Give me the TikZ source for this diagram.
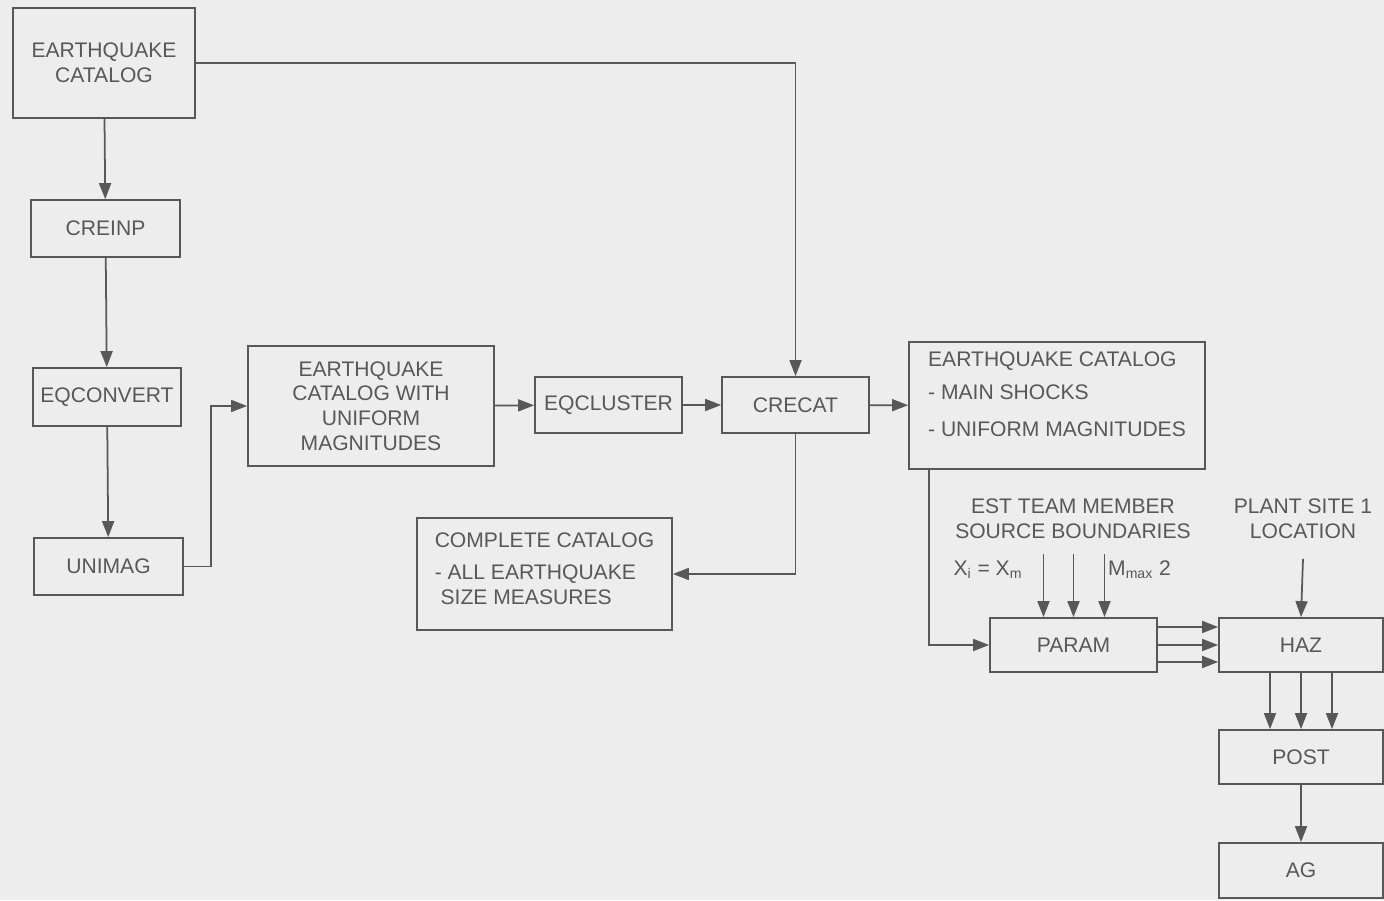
\documentclass[tikz,border=0pt]{standalone}
\usepackage{fontspec}
\setmainfont{Liberation Sans}
\usetikzlibrary{positioning,arrows.meta,calc}
\definecolor{paper}{HTML}{EDEDED}
\definecolor{ink}{HTML}{585858}

\begin{document}
\begin{tikzpicture}[>={Triangle[length=3.2mm,width=2.4mm]},
  every node/.style={text=ink,font=\fontsize{12}{14}\selectfont},
  box/.style={draw=ink,line width=1pt,inner sep=3pt},
  flow/.style={->,draw=ink,line width=1pt}]
\fill[paper] (0,0) rectangle (27.68,18);
\useasboundingbox (0,0) rectangle (27.68,18);
% left column
\node[box,minimum width=3.64cm,minimum height=2.2cm,align=center] (eqcat) at (2.08,16.74) {EARTHQUAKE\\CATALOG};
\node[box,minimum width=2.98cm,minimum height=1.14cm] (creinp) at (2.11,13.43) {CREINP};
\node[box,minimum width=2.96cm,minimum height=1.16cm] (eqconv) at (2.14,10.06) {EQCONVERT};
\node[box,minimum width=2.98cm,minimum height=1.14cm] (unimag) at (2.17,6.67) {UNIMAG};
% middle row
\node[box,minimum width=4.92cm,minimum height=2.4cm,align=center] (unicat) at (7.42,9.88) {EARTHQUAKE\\CATALOG WITH\\UNIFORM\\MAGNITUDES};
\node[box,minimum width=2.94cm,minimum height=1.12cm] (eqclus) at (12.17,9.9) {EQCLUSTER};
\node[box,minimum width=2.94cm,minimum height=1.12cm] (crecat) at (15.91,9.9) {CRECAT};
\node[box,minimum width=5.92cm,minimum height=2.54cm,align=left] (mainshk) at (21.14,9.89)
  {EARTHQUAKE CATALOG\\[5pt] - MAIN SHOCKS\\[7pt] - UNIFORM MAGNITUDES\\[-1pt]\mbox{}};
\node[box,minimum width=5.1cm,minimum height=2.24cm,align=left] (complete) at (10.89,6.52)
  {COMPLETE CATALOG\\[4pt] - ALL EARTHQUAKE\\ \ SIZE MEASURES\\[-8pt]\mbox{}};
% hazard chain
\node[box,minimum width=3.34cm,minimum height=1.08cm] (param) at (21.47,5.1) {PARAM};
\node[box,minimum width=3.28cm,minimum height=1.08cm] (haz) at (26.02,5.1) {HAZ};
\node[box,minimum width=3.28cm,minimum height=1.08cm] (post) at (26.02,2.86) {POST};
\node[box,minimum width=3.28cm,minimum height=1.1cm] (ag) at (26.02,0.59) {AG};
\node[align=center] (est) at (21.46,7.62) {EST TEAM MEMBER\\SOURCE BOUNDARIES};
\node[align=center] (plant) at (26.06,7.62) {PLANT SITE 1\\LOCATION};
\node (xim) at (19.76,6.6) {X\textsubscript{i} = X\textsubscript{m}};
\node[anchor=west] (mmax) at (22.04,6.6) {M\textsubscript{max} 2};

\draw[flow] (eqcat) -- (creinp);
\draw[flow] (creinp) -- (eqconv);
\draw[flow] (eqconv) -- (unimag);
\draw[flow] (unimag.east) -- ++(0.54,0) |- (unicat.west);
\draw[flow] (unicat) -- (eqclus);
\draw[flow] (eqclus) -- (crecat);
\draw[flow] (crecat) -- (mainshk);
\draw[flow] (eqcat.east) -| (crecat.north);
\draw[flow] (crecat.south) |- (complete.east);
\draw[flow] ([xshift=0.42cm]mainshk.south west) |- (param.west);
\foreach \dx in {-0.6,0,0.62}
  \draw[flow] ([xshift=\dx cm,yshift=1.26cm]param.north) -- ([xshift=\dx cm]param.north);
\foreach \dy in {0.36,0,-0.34}
  \draw[flow] ([yshift=\dy cm]param.east) -- ([yshift=\dy cm]haz.west);
\draw[flow] ([yshift=-0.28cm]plant.south) -- (haz.north);
\foreach \dx in {-0.62,0,0.62}
  \draw[flow] ([xshift=\dx cm]haz.south) -- ([xshift=\dx cm]post.north);
\draw[flow] (post) -- (ag);
\end{tikzpicture}
\end{document}
